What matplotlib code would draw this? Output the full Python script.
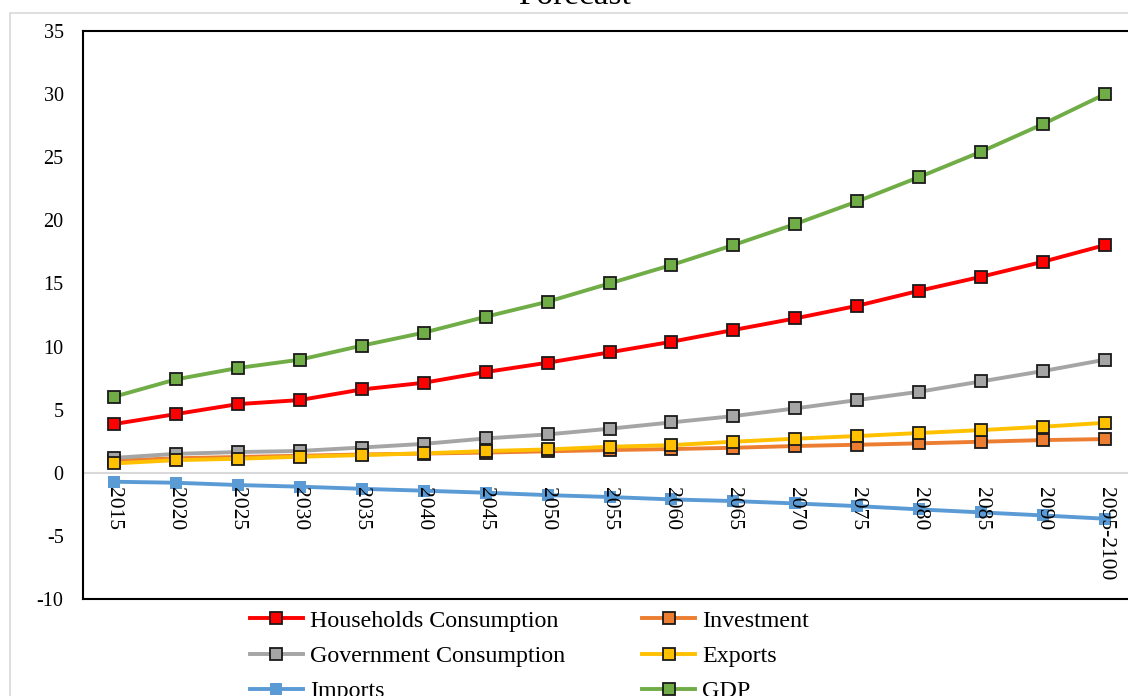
import matplotlib
matplotlib.use("Agg")
import matplotlib.pyplot as plt
from matplotlib.patches import Rectangle
from matplotlib.transforms import offset_copy

plt.rcParams['font.family'] = ['Liberation Serif', 'DejaVu Serif']

categories = ["2015", "2020", "2025", "2030", "2035", "2040", "2045", "2050", "2055",
              "2060", "2065", "2070", "2075", "2080", "2085", "2090", "2095-2100"]

households = [3.86, 4.65, 5.44, 5.76, 6.6, 7.13, 7.98, 8.72, 9.54,
              10.38, 11.31, 12.23, 13.23, 14.42, 15.53, 16.72, 18.04]
investment = [0.95, 1.15, 1.25, 1.35, 1.45, 1.52, 1.6, 1.7, 1.8,
              1.88, 1.98, 2.12, 2.22, 2.33, 2.46, 2.59, 2.67]
government = [1.18, 1.5, 1.64, 1.73, 2.0, 2.29, 2.72, 3.04, 3.49,
              3.99, 4.49, 5.1, 5.76, 6.42, 7.24, 8.06, 8.96]
exports = [0.74, 1.0, 1.11, 1.27, 1.4, 1.54, 1.72, 1.85, 2.06,
           2.19, 2.46, 2.7, 2.91, 3.15, 3.38, 3.65, 3.96]
imports = [-0.71, -0.79, -0.97, -1.1, -1.27, -1.42, -1.58, -1.77, -1.92,
           -2.11, -2.24, -2.43, -2.64, -2.9, -3.14, -3.38, -3.64]
gdp = [6.02, 7.4, 8.3, 8.96, 10.07, 11.1, 12.36, 13.55, 15.0,
       16.46, 18.04, 19.71, 21.5, 23.43, 25.44, 27.63, 30.0]

W, H = 1128, 696
fig = plt.figure(figsize=(W / 100, H / 100), dpi=100)

# outer chart border (light gray), extends past the right/bottom edges
fig.patches.append(Rectangle((10 / W, -0.5), 2, 1.5 - 13 / H, transform=fig.transFigure,
                             fill=False, edgecolor='#d9d9d9', linewidth=1.2))

# axes: left 83px, right 1136px, top 31px, bottom 599px
ax = fig.add_axes([83 / W, 1 - 599 / H, (1136 - 83) / W, (599 - 31) / H])
ax.set_xlim(-0.5, len(categories) - 0.5)
ax.set_ylim(-10, 35)
ax.set_yticks(range(-10, 36, 5))
ax.set_yticklabels([str(v) for v in range(-10, 36, 5)], fontsize=14.5)
ax.tick_params(axis='y', length=0, pad=14)
ax.set_xticks([])
for side in ['left', 'bottom', 'top']:
    ax.spines[side].set_color('black')
    ax.spines[side].set_linewidth(1.5)
ax.spines['right'].set_visible(False)

ax.axhline(0, color='#d9d9d9', linewidth=1.5, zorder=1)

x = list(range(len(categories)))
series = [
    ("Households Consumption", households, '#FF0000', 3),
    ("Investment", investment, '#ED7D31', 4),
    ("Government Consumption", government, '#A5A5A5', 5),
    ("Exports", exports, '#FFC000', 6),
    ("Imports", imports, '#5B9BD5', 7),
    ("GDP", gdp, '#70AD47', 8),
]
handles = {}
for name, vals, col, z in series:
    if name == "Imports":
        h, = ax.plot(x, vals, color=col, linewidth=2.8, marker='s', markersize=9,
                     markerfacecolor=col, markeredgecolor=col, markeredgewidth=0,
                     zorder=z, label=name)
    else:
        h, = ax.plot(x, vals, color=col, linewidth=2.8, marker='s', markersize=9,
                     markerfacecolor=col, markeredgecolor='#1a1a1a', markeredgewidth=1.3,
                     zorder=z, label=name)
    handles[name] = h

# category labels rotated, just below the zero line
lab_tr = offset_copy(ax.transData, fig=fig, x=0, y=-14, units='dots')
for i, c in enumerate(categories):
    ax.text(i, 0, c, rotation=-90, ha='center', va='top', fontsize=15.5,
            transform=lab_tr, zorder=20, clip_on=False)

order = ["Households Consumption", "Government Consumption", "Imports",
         "Investment", "Exports", "GDP"]
leg = fig.legend([handles[n] for n in order], order, ncol=2, loc='upper left',
                 bbox_to_anchor=(250 / W, 1 - 610 / H), frameon=False, fontsize=17.3,
                 handlelength=2.2, handletextpad=0.3, columnspacing=3.2,
                 labelspacing=0.56, borderpad=0, borderaxespad=0)

fig.text(575 / W, 1 - 4 / H, "Forecast", ha='center', va='baseline', fontsize=24)

fig.savefig("out.png", dpi=100)
